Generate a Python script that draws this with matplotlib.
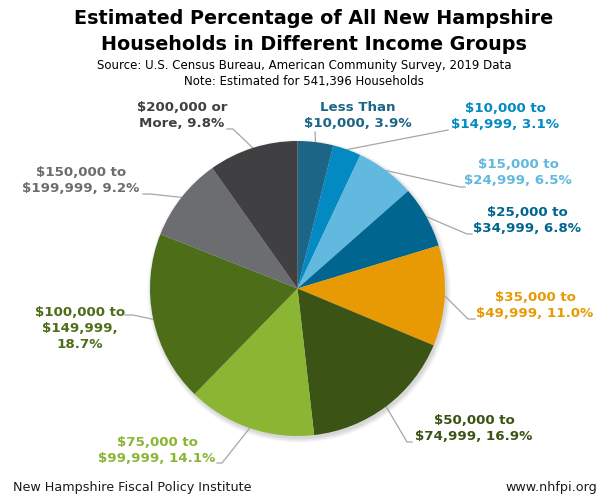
import numpy as np
import matplotlib
matplotlib.use("Agg")
import matplotlib.pyplot as plt
from matplotlib.patches import Circle

# data
groups = ["Less Than\n$10,000", "$10,000 to\n$14,999", "$15,000 to\n$24,999",
          "$25,000 to\n$34,999", "$35,000 to\n$49,999", "$50,000 to\n$74,999",
          "$75,000 to\n$99,999", "$100,000 to\n$149,999", "$150,000 to\n$199,999",
          "$200,000 or\nMore"]
shares = [3.9, 3.1, 6.5, 6.8, 11.0, 16.9, 14.1, 18.7, 9.2, 9.8]
joiners = [", ", ", ", ", ", ", ", ", ", ", ", ", ", ",\n", ", ", ", "]
colors = ["#1c6586", "#038ac2", "#62b9df", "#00668f", "#e89a05",
          "#3b5315", "#8ab633", "#4e6d19", "#6c6d70", "#404043"]

W, H = 610, 503
def py(y):
    return H - y

fig = plt.figure(figsize=(W / 100, H / 100), dpi=100)
ax = fig.add_axes([0, 0, 1, 1])

cx, cy, r = 297.5, py(288.5), 147.5

# soft shadow under the pie
for k in range(8):
    ax.add_patch(Circle((cx + 1.5, cy - 2.5), r + 0.6 * k, color="black",
                        alpha=0.018, lw=0, zorder=0))

wedges, _ = ax.pie(shares, colors=colors, startangle=90, counterclock=False,
                   center=(cx, cy), radius=r, wedgeprops=dict(linewidth=0),
                   frame=False)
for w in wedges:
    w.set_zorder(2)

# label layout (pixel coords): block center, leader knee, leader end
label_pos = [(358, 115), (505, 116), (518, 172), (527, 220.5), (535, 305.5),
             (474, 428), (157, 450.5), (80, 328), (81, 180), (182, 115.5)]
knees = [(315, 132), (448, 130), (460, 187), (467, 234), (468, 319),
         (407, 442), (222, 463), (133, 315), (150, 194), (233, 129)]
ends = [(315, 132), (448, 130), (465, 187), (472, 234), (475, 319),
        (412, 442), (217, 463), (125, 315), (143, 194), (227, 129)]

for i, w in enumerate(wedges):
    mid = np.deg2rad((w.theta1 + w.theta2) / 2)
    sx, sy = cx + r * np.cos(mid), cy + r * np.sin(mid)
    kx, ky = knees[i]
    ex, ey = ends[i]
    ax.plot([sx, kx, ex], [sy, py(ky), py(ey)], color="#a6a6a6", lw=0.9,
            zorder=1, solid_joinstyle="miter")
    txt = f"{groups[i]}{joiners[i]}{shares[i]:.1f}%"
    lx, ly = label_pos[i]
    ax.text(lx, py(ly), txt, ha="center", va="center", color=colors[i],
            fontsize=9.6, fontweight="bold", linespacing=1.3)

ax.set_xlim(0, W)
ax.set_ylim(0, H)
ax.set_aspect("equal")
ax.axis("off")

fig.text(314 / W, 1 - 18 / H, "Estimated Percentage of All New Hampshire",
         ha="center", va="center", fontsize=13.8, fontweight="bold")
fig.text(314 / W, 1 - 45 / H, "Households in Different Income Groups",
         ha="center", va="center", fontsize=13.8, fontweight="bold")
fig.text(304 / W, 1 - 66 / H, "Source: U.S. Census Bureau, American Community Survey, 2019 Data",
         ha="center", va="center", fontsize=8.5)
fig.text(304 / W, 1 - 81 / H, "Note: Estimated for 541,396 Households",
         ha="center", va="center", fontsize=8.5)

fig.text(13 / W, 1 - 488 / H, "New Hampshire Fiscal Policy Institute",
         ha="left", va="center", fontsize=9.2, color="#1a1a1a")
fig.text(597 / W, 1 - 488 / H, "www.nhfpi.org",
         ha="right", va="center", fontsize=9.2, color="#1a1a1a")

fig.savefig("out.png", dpi=100)
